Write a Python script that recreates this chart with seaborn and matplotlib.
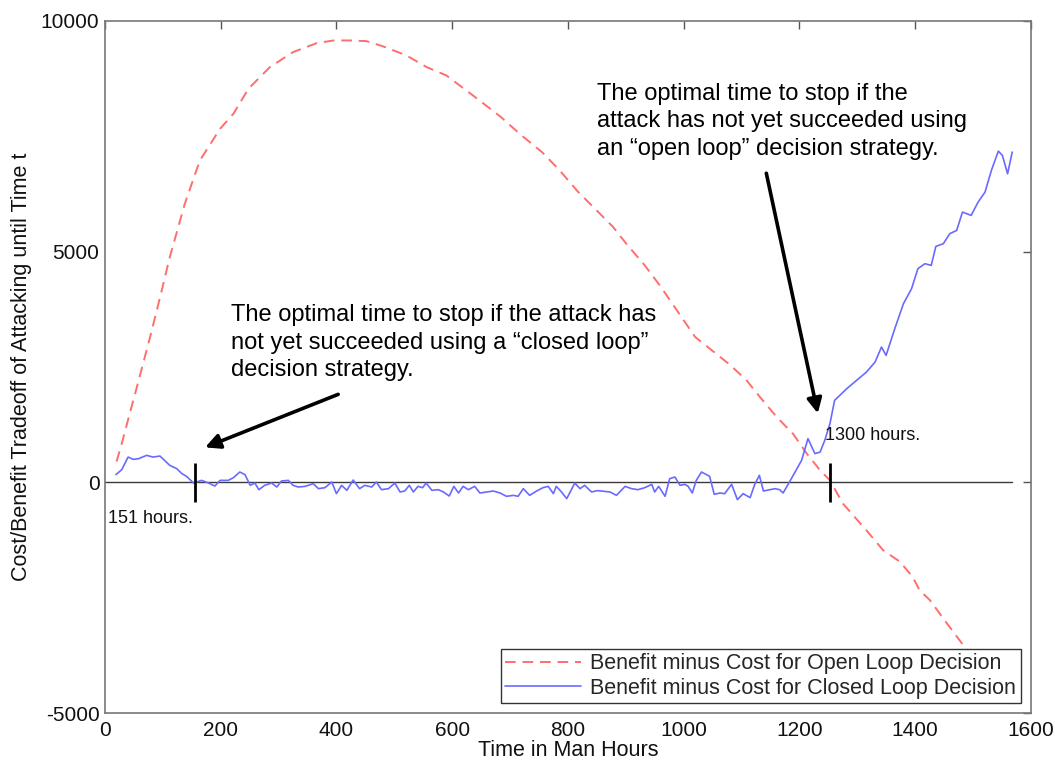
import matplotlib
matplotlib.use("Agg")
import matplotlib.pyplot as plt
import seaborn as sns
import pandas as pd

# ---------------- data ----------------
open_t = [20, 29, 43, 58, 78, 95, 112, 138, 164, 199, 222, 248, 285, 325, 366, 395, 423, 452,
          481, 521, 556, 590, 636, 683, 719, 756, 786, 817, 848, 878, 902, 933, 960, 990,
          1020, 1050, 1080, 1109, 1132, 1161, 1189, 1213, 1236, 1253, 1275, 1316, 1345, 1374,
          1396, 1408, 1426, 1455, 1481, 1520, 1567]
open_v = [450, 840, 1500, 2200, 3150, 4000, 4880, 6040, 6977, 7665, 7990, 8531, 9000, 9325,
          9520, 9578, 9578, 9563, 9448, 9253, 9000, 8820, 8386, 7932, 7530, 7150, 6760, 6306,
          5916, 5537, 5157, 4702, 4250, 3700, 3150, 2850, 2550, 2210, 1849, 1415, 1055, 622,
          260, 43, -455, -1040, -1473, -1720, -2052, -2340, -2557, -3055, -3489, -4100, -4800]

closed_t = [19, 29, 40, 49, 58, 72, 83, 95, 104, 112, 124, 133, 141, 153, 167, 179, 190, 199,
            213, 222, 233, 242, 251, 259, 266, 276, 288, 297, 305, 317, 325, 334, 346, 360,
            369, 380, 392, 400, 409, 418, 429, 440, 449, 461, 469, 478, 490, 501, 510, 518,
            526, 533, 541, 549, 555, 565, 576, 585, 595, 603, 611, 619, 628, 639, 648, 660,
            671, 683, 694, 706, 714, 723, 734, 746, 757, 766, 775, 780, 789, 798, 812, 821,
            829, 841, 851, 858, 873, 884, 899, 910, 921, 933, 945, 950, 957, 968, 976, 985,
            994, 1002, 1008, 1015, 1022, 1031, 1045, 1053, 1063, 1071, 1083, 1093, 1103, 1115,
            1123, 1131, 1138, 1149, 1158, 1166, 1172, 1184, 1195, 1204, 1215, 1227, 1236, 1244,
            1253, 1261, 1276, 1282, 1299, 1316, 1331, 1342, 1350, 1365, 1380, 1394, 1405, 1417,
            1428, 1436, 1449, 1460, 1472, 1482, 1497, 1509, 1521, 1532, 1544, 1551, 1560, 1568]
closed_v = [167, 275, 548, 498, 513, 585, 548, 570, 462, 368, 297, 188, 130, -15, 43, -15, -80, 43,
            43, 101, 224, 167, -65, -15, -159, -65, -15, -101, 29, 43, -65, -101, -87, -29,
            -137, -116, 7, -245, -65, -173, 50, -137, -65, -101, 7, -159, -137, -15, -209, -188,
            -65, -209, -87, -116, -15, -173, -159, -209, -296, -87, -231, -87, -159, -87, -231, -209,
            -188, -231, -303, -282, -303, -137, -282, -188, -116, -87, -245, -87, -209, -354, -15, -137,
            -65, -209, -180, -188, -209, -282, -87, -137, -159, -116, -43, -209, -87, -303, 80, 115,
            -65, -43, -87, -231, 43, 224, 130, -260, -231, -245, -43, -375, -245, -332,
            -43, 152, -188, -159, -137, -159, -231, 29, 275, 477, 947, 622, 657, 910,
            1272, 1777, 1957, 2030, 2210, 2390, 2607, 2932, 2752, 3330, 3872, 4197, 4631, 4739,
            4703, 5114, 5173, 5389, 5461, 5858, 5786, 6074, 6291, 6761, 7179, 7086, 6689, 7158]

label_open = "Benefit minus Cost for Open Loop Decision"
label_closed = "Benefit minus Cost for Closed Loop Decision"

x_ticks = [0, 200, 400, 600, 800, 1000, 1200, 1400, 1600]
y_ticks = [-5000, 0, 5000, 10000]

stop_times = [155, 1253]          # marker positions for the optimal stopping times
stop_labels = ["151 hours.", "1300 hours."]

note_closed = ("The optimal time to stop if the attack has\n"
               "not yet succeeded using a \u201cclosed loop\u201d\n"
               "decision strategy.")
note_open = ("The optimal time to stop if the\n"
             "attack has not yet succeeded using\n"
             "an \u201copen loop\u201d decision strategy.")

# ---------------- figure ----------------
sns.set_style("white")
plt.rcParams['font.family'] = ['Liberation Sans', 'DejaVu Sans']
plt.rcParams['axes.unicode_minus'] = False

fig = plt.figure(figsize=(10.55, 7.63), dpi=100)
ax = fig.add_axes([0.0995, 0.0655, 0.8775, 0.907])

df_open = pd.DataFrame({"t": open_t, "v": open_v})
df_closed = pd.DataFrame({"t": closed_t, "v": closed_v})

red = "#FF6E6E"
blue = "#6A6AFF"

# zero reference line
ax.plot([0, 1567], [0, 0], color="#3a3a3a", lw=1.0, zorder=1)

sns.lineplot(data=df_open, x="t", y="v", ax=ax, color=red, lw=1.4,
             linestyle=(0, (5.5, 3.5)), label=label_open, zorder=3)
sns.lineplot(data=df_closed, x="t", y="v", ax=ax, color=blue, lw=1.2,
             label=label_closed, zorder=3)

# stopping markers
ax.vlines(stop_times, -420, 420, color="black", lw=2.0, zorder=4)

ax.text(5, -780, stop_labels[0], fontsize=13, ha="left", va="center", color="#111111")
ax.text(1244, 1020, stop_labels[1], fontsize=13, ha="left", va="center", color="#111111")

# notes with arrows
ax.text(218, 3030, note_closed, fontsize=17, ha="left", va="center",
        linespacing=1.33, color="black")
ax.text(850, 7823, note_open, fontsize=17, ha="left", va="center",
        linespacing=1.33, color="black")

ax.annotate("", xy=(173, 758), xytext=(403, 1907),
            arrowprops=dict(arrowstyle="-|>", color="black", lw=2.6,
                            mutation_scale=22, shrinkA=0, shrinkB=0))
ax.annotate("", xy=(1232, 1495), xytext=(1143, 6700),
            arrowprops=dict(arrowstyle="-|>", color="black", lw=2.6,
                            mutation_scale=22, shrinkA=0, shrinkB=0))

# axes styling (MATLAB-like box)
ax.set_xlim(0, 1600)
ax.set_ylim(-5000, 10000)
ax.set_xticks(x_ticks)
ax.set_yticks(y_ticks)
ax.tick_params(direction="in", length=6, width=1, color="#555555",
               top=True, right=True, labelsize=15, labelcolor="#111111")
ax.tick_params(axis="x", pad=6)
ax.tick_params(axis="y", pad=4)
for s in ax.spines.values():
    s.set_color("#777777")
    s.set_linewidth(1.2)

ax.set_xlabel("Time in Man Hours", fontsize=15.5, labelpad=0, color="#111111")
ax.set_ylabel("Cost/Benefit Tradeoff of Attacking until Time t", fontsize=15.5,
              labelpad=6, color="#111111")

leg = ax.legend(loc="lower right", bbox_to_anchor=(0.989, 0.0145), fontsize=15.5,
                frameon=True, fancybox=False, framealpha=1, edgecolor="#333333",
                handlelength=3.5, borderpad=0.2, labelspacing=0.15, handletextpad=0.45,
                borderaxespad=0)
leg.get_frame().set_linewidth(1.0)
leg.set_zorder(10)

fig.savefig("out.png", dpi=100)
